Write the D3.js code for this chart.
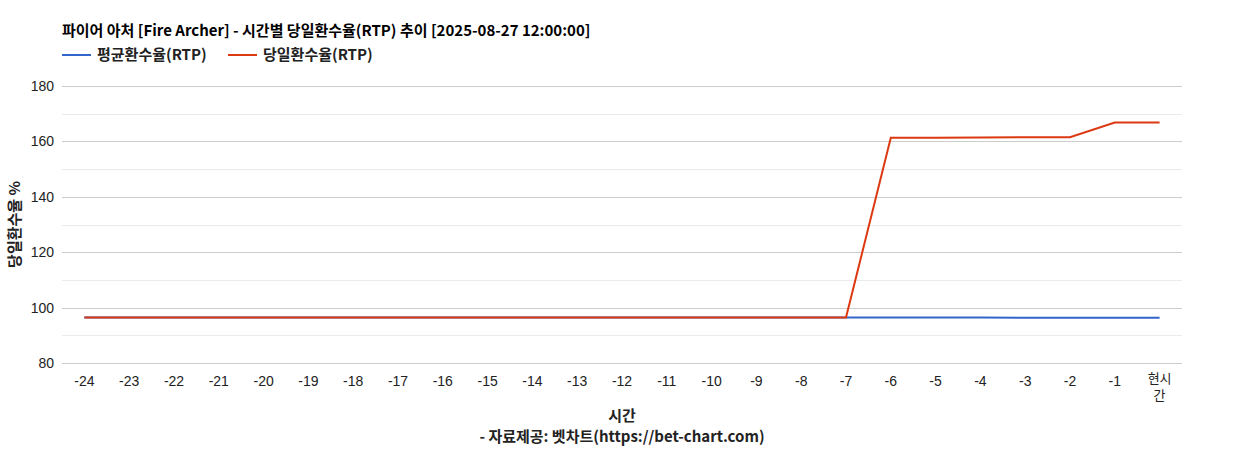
<!DOCTYPE html>
<html>
<head>
<meta charset="utf-8">
<script src="https://cdn.jsdelivr.net/npm/d3@7"></script>
<style>
  body { margin: 0; background: #fff; }
  text { font-family: "Liberation Sans", Arial, sans-serif; }
  .kr { font-family: "Noto Sans CJK KR", "Noto Sans", sans-serif; }
</style>
</head>
<body>
<div id="chart"></div>
<script>
// categories (hours ago) and series values
var hours = ["-24","-23","-22","-21","-20","-19","-18","-17","-16","-15","-14","-13","-12",
             "-11","-10","-9","-8","-7","-6","-5","-4","-3","-2","-1","현시간"];
var avgRtp = [96.4,96.4,96.4,96.4,96.4,96.4,96.4,96.4,96.4,96.4,96.4,96.4,96.4,
              96.4,96.4,96.4,96.4,96.4,96.4,96.4,96.4,96.3,96.3,96.3,96.3];
var dayRtp = [96.4,96.4,96.4,96.4,96.4,96.4,96.4,96.4,96.4,96.4,96.4,96.4,96.4,
              96.4,96.4,96.4,96.4,96.4,161.3,161.3,161.4,161.5,161.5,166.8,166.8];
var yTicks = [80, 100, 120, 140, 160, 180];
var yMinor = [90, 110, 130, 150, 170];

var width = 1244, height = 450;
var margin = {top: 86, right: 62, bottom: 87, left: 62},
    w = width - margin.left - margin.right,
    h = height - margin.top - margin.bottom;

var svg = d3.select("#chart")
  .append("svg")
    .attr("width", width)
    .attr("height", height);

var g = svg.append("g")
    .attr("transform", "translate(" + margin.left + "," + margin.top + ")");

var x = d3.scalePoint()
  .domain(hours)
  .range([0, w])
  .padding(0.5);

var y = d3.scaleLinear()
  .domain([80, 180])
  .range([h, 0]);

// gridlines
g.selectAll(".minor")
  .data(yMinor)
  .enter().append("line")
    .attr("x1", 0).attr("x2", w)
    .attr("y1", function(d) { return Math.round(y(d)) + 0.5 })
    .attr("y2", function(d) { return Math.round(y(d)) + 0.5 })
    .attr("stroke", "#ebebeb");

g.selectAll(".major")
  .data(yTicks)
  .enter().append("line")
    .attr("x1", 0).attr("x2", w)
    .attr("y1", function(d) { return Math.round(y(d)) + 0.5 })
    .attr("y2", function(d) { return Math.round(y(d)) + 0.5 })
    .attr("stroke", "#cccccc");

// Y axis labels
g.selectAll(".ylab")
  .data(yTicks)
  .enter().append("text")
    .attr("x", -8)
    .attr("y", function(d) { return y(d) + 5 })
    .attr("text-anchor", "end")
    .style("font-size", "14px")
    .style("fill", "#222")
    .text(function(d) { return d });

// X axis labels (last one wraps onto two lines)
hours.forEach(function(d) {
  var lines = d === "현시간" ? ["현시", "간"] : [d];
  lines.forEach(function(s, k) {
    g.append("text")
      .attr("class", d === "현시간" ? "kr" : null)
      .attr("x", x(d))
      .attr("y", h + (lines.length > 1 ? 20 + k * 17 : 23))
      .attr("text-anchor", "middle")
      .style("font-size", lines.length > 1 ? "13px" : "14px")
      .style("fill", "#222")
      .text(s);
  });
});

// lines
var line = d3.line()
  .x(function(d, i) { return x(hours[i]) })
  .y(function(d) { return y(d) });

g.append("path")
  .datum(avgRtp)
  .attr("d", line)
  .attr("fill", "none")
  .attr("stroke", "#3366cc")
  .attr("stroke-width", 2);

g.append("path")
  .datum(dayRtp)
  .attr("d", line)
  .attr("fill", "none")
  .attr("stroke", "#dc3912")
  .attr("stroke-width", 2);

// title
svg.append("text")
  .attr("class", "kr")
  .attr("x", 62).attr("y", 36)
  .style("font-size", "15px")
  .style("font-weight", "bold")
  .style("fill", "#000")
  .text("파이어 아처 [Fire Archer] - 시간별 당일환수율(RTP) 추이 [2025-08-27 12:00:00]");

// legend
var legend = [
  {name: "평균환수율(RTP)", color: "#3366cc", x: 62},
  {name: "당일환수율(RTP)", color: "#dc3912", x: 228}
];
var lg = svg.selectAll(".legend")
  .data(legend)
  .enter().append("g")
    .attr("transform", function(d) { return "translate(" + d.x + ",55)" });
lg.append("line")
  .attr("x1", 0).attr("x2", 29)
  .attr("stroke", function(d) { return d.color })
  .attr("stroke-width", 2);
lg.append("text")
  .attr("class", "kr")
  .attr("x", 35).attr("y", 5)
  .style("font-size", "15px")
  .style("font-weight", "bold")
  .style("fill", "#222")
  .text(function(d) { return d.name });

// axis titles
svg.append("text")
  .attr("class", "kr")
  .attr("transform", "translate(20," + (margin.top + h / 2) + ") rotate(-90)")
  .attr("text-anchor", "middle")
  .style("font-size", "15px")
  .style("font-weight", "bold")
  .style("fill", "#222")
  .text("당일환수율 %");

svg.append("text")
  .attr("class", "kr")
  .attr("x", margin.left + w / 2).attr("y", 421)
  .attr("text-anchor", "middle")
  .style("font-size", "15px")
  .style("font-weight", "bold")
  .style("fill", "#222")
  .text("시간");

svg.append("text")
  .attr("class", "kr")
  .attr("x", margin.left + w / 2).attr("y", 442)
  .attr("text-anchor", "middle")
  .style("font-size", "15px")
  .style("font-weight", "bold")
  .style("fill", "#222")
  .text("- 자료제공: 벳차트(https://bet-chart.com)");
</script>
</body>
</html>
